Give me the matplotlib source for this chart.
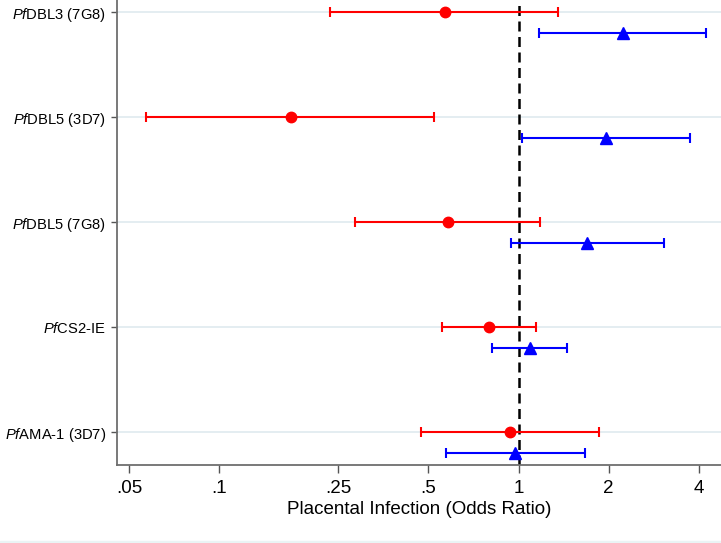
import matplotlib
matplotlib.use("Agg")
import matplotlib.pyplot as plt
from matplotlib.patches import Rectangle

plt.rcParams['font.family'] = ['Liberation Sans', 'DejaVu Sans']
plt.rcParams['mathtext.fontset'] = 'custom'
plt.rcParams['mathtext.it'] = 'Liberation Sans:italic'
plt.rcParams['mathtext.rm'] = 'Liberation Sans'

# antigens, top to bottom
labels = [r"$\it{Pf}$DBL3 (7G8)", r"$\it{Pf}$DBL5 (3D7)", r"$\it{Pf}$DBL5 (7G8)",
          r"$\it{Pf}$CS2-IE", r"$\it{Pf}$AMA-1 (3D7)"]

# red series (circles): odds ratio and 95% CI
red_or = [0.566, 0.173, 0.579, 0.794, 0.938]
red_lo = [0.235, 0.057, 0.284, 0.556, 0.471]
red_hi = [1.36, 0.52, 1.18, 1.14, 1.855]

# blue series (triangles)
blue_or = [2.23, 1.965, 1.70, 1.09, 0.976]
blue_lo = [1.17, 1.03, 0.942, 0.817, 0.572]
blue_hi = [4.24, 3.73, 3.07, 1.455, 1.671]

xticks = [0.05, 0.1, 0.25, 0.5, 1, 2, 4]
xticklabels = [".05", ".1", ".25", ".5", "1", "2", "4"]

fig = plt.figure(figsize=(7.21, 5.43), dpi=100)
ax = fig.add_axes([116.7 / 721, 78 / 543, 1 - 116.7 / 721, 1 - 78 / 543])

n = len(labels)
ypos = [n - i for i in range(n)]
ypos_b = [y - 0.2 for y in ypos]

for y in ypos:
    ax.axhline(y, color="#e4edf1", lw=1.4, zorder=0)

ax.axvline(1, color="black", lw=1.8, ls=(0, (4, 2.2)), zorder=1)

red_err = [[o - l for o, l in zip(red_or, red_lo)], [h - o for o, h in zip(red_or, red_hi)]]
blue_err = [[o - l for o, l in zip(blue_or, blue_lo)], [h - o for o, h in zip(blue_or, blue_hi)]]

ax.errorbar(red_or, ypos, xerr=red_err, fmt="o", color="#ff0000", ms=7.5,
            elinewidth=1.5, capsize=3.5, capthick=1.5, zorder=3)
ax.errorbar(blue_or, ypos_b, xerr=blue_err, fmt="^", color="#0000ff", ms=8,
            elinewidth=1.5, capsize=3.5, capthick=1.5, zorder=3)

ax.set_xscale("log")
ax.set_xlim(0.0454, 4.75)
ax.set_ylim(0.689, 5.117)
ax.set_xticks(xticks)
ax.set_xticklabels(xticklabels, fontsize=13.5)
ax.minorticks_off()
ax.set_yticks(ypos)
ax.set_yticklabels(labels, fontsize=10.6)
ax.set_xlabel("Placental Infection (Odds Ratio)", fontsize=13.5, labelpad=3)

ax.tick_params(axis="x", length=6, width=1, color="#555555", pad=5)
ax.tick_params(axis="y", length=4.5, width=1, color="#555555", pad=3)

for s in ["top", "right"]:
    ax.spines[s].set_visible(False)
for s in ["left", "bottom"]:
    ax.spines[s].set_color("#6e6e6e")
    ax.spines[s].set_linewidth(1.3)

# thin light strip along the bottom edge
fig.patches.append(Rectangle((0, 0), 1, 2 / 543, transform=fig.transFigure,
                             color="#eaf4f5", zorder=0))

fig.savefig("out.png", dpi=100)
